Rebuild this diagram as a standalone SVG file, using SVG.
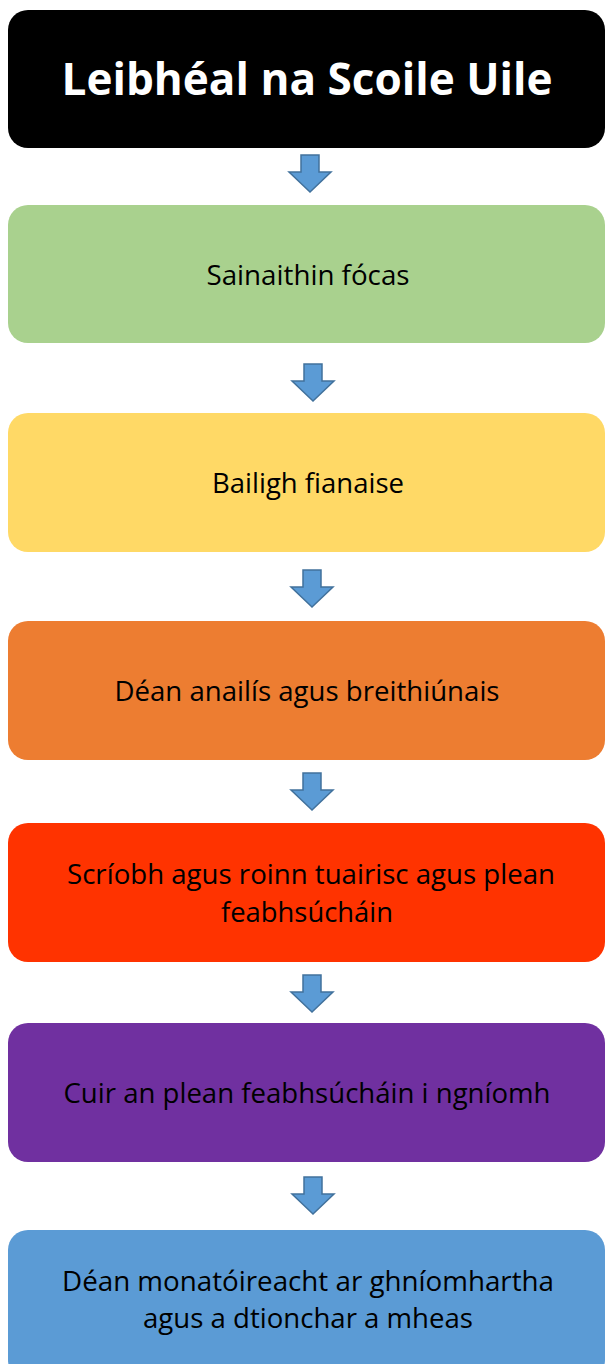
<svg xmlns="http://www.w3.org/2000/svg" width="606" height="1364" viewBox="0 0 606 1364">
<style>
.box{stroke:none}
.t{font-family:"Open Sans","Liberation Sans",sans-serif;font-size:28px;fill:#000;text-anchor:middle}
.title{font-family:"Open Sans","Liberation Sans",sans-serif;font-size:45px;font-weight:bold;fill:#fff;text-anchor:middle}
.arr{fill:#5B9BD5;stroke:#41719C;stroke-width:1.5;stroke-linejoin:miter}
</style>
<defs>
<path id="ar" d="M-9,0 H9 V17 H21 L0,37 L-21,17 H-9 Z"/>
</defs>
<g id="n0"><rect class="box" x="8" y="10" width="597" height="138" rx="20" fill="#000"/>
<text class="title" x="307" y="95" textLength="491" lengthAdjust="spacingAndGlyphs">Leibhéal na Scoile Uile</text></g>
<g id="n1"><rect class="box" x="8" y="205" width="597" height="138" rx="20" fill="#A9D18E"/>
<text class="t" x="308" y="285" textLength="203" lengthAdjust="spacingAndGlyphs">Sainaithin fócas</text></g>
<g id="n2"><rect class="box" x="8" y="413" width="597" height="139" rx="20" fill="#FFD966"/>
<text class="t" x="308" y="493" textLength="192" lengthAdjust="spacingAndGlyphs">Bailigh fianaise</text></g>
<g id="n3"><rect class="box" x="8" y="621" width="597" height="139" rx="20" fill="#ED7D31"/>
<text class="t" x="307" y="701" textLength="385" lengthAdjust="spacingAndGlyphs">Déan anailís agus breithiúnais</text></g>
<g id="n4"><rect class="box" x="8" y="823" width="597" height="139" rx="20" fill="#FF3300"/>
<text class="t" x="311" y="884" textLength="488" lengthAdjust="spacingAndGlyphs">Scríobh agus roinn tuairisc agus plean</text>
<text class="t" x="307" y="922" textLength="172" lengthAdjust="spacingAndGlyphs">feabhsúcháin</text></g>
<g id="n5"><rect class="box" x="8" y="1023" width="597" height="139" rx="20" fill="#7030A0"/>
<text class="t" x="307" y="1103" textLength="487" lengthAdjust="spacingAndGlyphs">Cuir an plean feabhsúcháin i ngníomh</text></g>
<g id="n6"><rect class="box" x="8" y="1230" width="597" height="150" rx="20" fill="#5B9BD5"/>
<text class="t" x="308" y="1291" textLength="492" lengthAdjust="spacingAndGlyphs">Déan monatóireacht ar ghníomhartha</text>
<text class="t" x="308" y="1328" textLength="330" lengthAdjust="spacingAndGlyphs">agus a dtionchar a mheas</text></g>
<g id="connectors">
<use href="#ar" class="arr" x="310" y="155"/>
<use href="#ar" class="arr" x="313" y="364"/>
<use href="#ar" class="arr" x="312" y="570"/>
<use href="#ar" class="arr" x="312" y="773"/>
<use href="#ar" class="arr" x="312" y="975"/>
<use href="#ar" class="arr" x="313" y="1177"/>
</g>
</svg>
